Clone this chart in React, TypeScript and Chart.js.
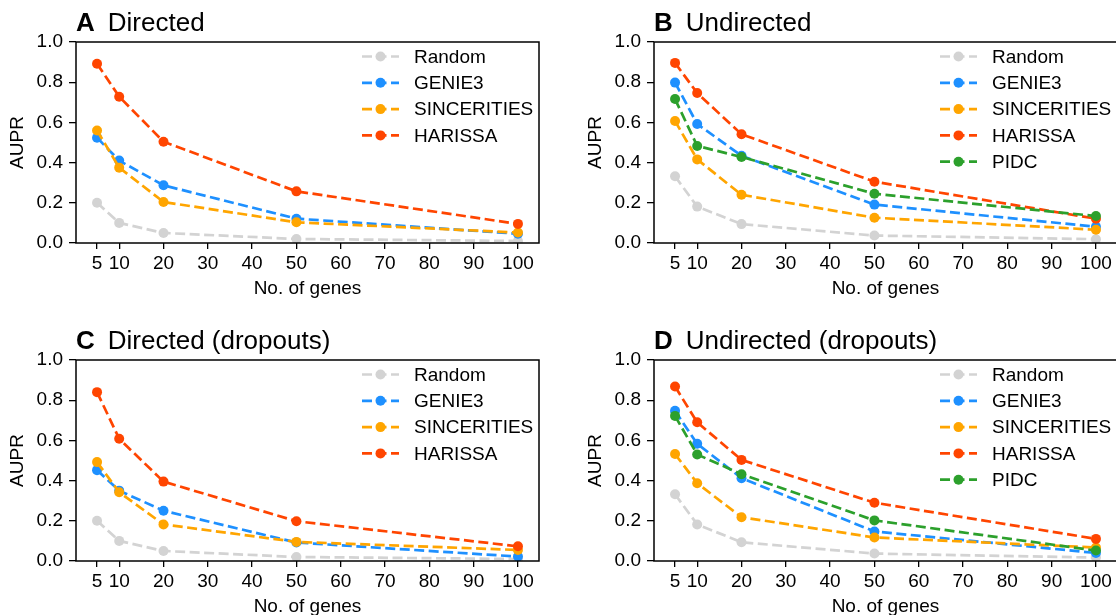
import React, { useEffect, useRef } from "react";
import { Chart, registerables } from "chart.js";

Chart.register(...registerables);

// ---------- data ----------
const genes = [5, 10, 20, 50, 100];
const xTickValues = [5, 10, 20, 30, 40, 50, 60, 70, 80, 90, 100];
const yTickValues = [0, 0.2, 0.4, 0.6, 0.8, 1.0];

const methodNames = ["Random", "GENIE3", "SINCERITIES", "HARISSA", "PIDC"];
const methodColors = ["#d3d3d3", "#1e90ff", "#ffa500", "#ff4500", "#2ca02c"];

// Panel A: Directed
const randomA = [0.2, 0.1, 0.05, 0.02, 0.01];
const genie3A = [0.524, 0.41, 0.287, 0.121, 0.046];
const sinceritiesA = [0.56, 0.375, 0.204, 0.103, 0.052];
const harissaA = [0.892, 0.728, 0.504, 0.257, 0.095];

// Panel B: Undirected
const randomB = [0.332, 0.181, 0.094, 0.037, 0.019];
const genie3B = [0.798, 0.592, 0.434, 0.191, 0.081];
const sinceritiesB = [0.607, 0.416, 0.24, 0.126, 0.066];
const harissaB = [0.896, 0.746, 0.541, 0.305, 0.121];
const pidcB = [0.716, 0.483, 0.428, 0.245, 0.134];

// Panel C: Directed (dropouts)
const randomC = [0.2, 0.1, 0.05, 0.02, 0.01];
const genie3C = [0.452, 0.35, 0.25, 0.092, 0.022];
const sinceritiesC = [0.492, 0.342, 0.182, 0.095, 0.055];
const harissaC = [0.84, 0.608, 0.395, 0.198, 0.073];

// Panel D: Undirected (dropouts)
const randomD = [0.332, 0.182, 0.093, 0.037, 0.017];
const genie3D = [0.747, 0.583, 0.412, 0.147, 0.04];
const sinceritiesD = [0.532, 0.387, 0.218, 0.117, 0.067];
const harissaD = [0.868, 0.69, 0.503, 0.29, 0.11];
const pidcD = [0.722, 0.53, 0.432, 0.202, 0.052];

const FONT = '"Liberation Sans", Arial, Helvetica, sans-serif';

type PanelProps = {
  letter: string;
  title: string;
  series: number[][];
  left: number;
  top: number;
};

const CW = 558;
const CH = 307;

function Panel({ letter, title, series, left, top }: PanelProps) {
  const ref = useRef<HTMLCanvasElement | null>(null);

  useEffect(() => {
    if (!ref.current) return;
    const names = methodNames.slice(0, series.length);
    const colors = methodColors.slice(0, series.length);

    const decor = {
      id: "decor",
      afterDraw(chart: any) {
        const { ctx, chartArea: ca } = chart;
        ctx.save();
        // frame
        ctx.setLineDash([]);
        ctx.strokeStyle = "#000";
        ctx.lineWidth = 1.5;
        ctx.strokeRect(ca.left, ca.top, ca.right - ca.left, ca.bottom - ca.top);
        // title
        ctx.fillStyle = "#000";
        ctx.textAlign = "left";
        ctx.textBaseline = "alphabetic";
        ctx.font = `bold 26px ${FONT}`;
        ctx.fillText(letter, ca.left, ca.top - 11);
        const w = ctx.measureText(letter).width;
        ctx.font = `26px ${FONT}`;
        ctx.fillText(title, ca.left + w + 13, ca.top - 11);
        // legend
        const y0 = ca.top + 14.5;
        const dy = 26.3;
        names.forEach((n, i) => {
          const y = y0 + i * dy;
          const x0 = ca.left + 286;
          const x1 = ca.left + 323;
          ctx.strokeStyle = colors[i];
          ctx.lineWidth = 2.7;
          ctx.setLineDash([10, 4.5]);
          ctx.beginPath();
          ctx.moveTo(x0, y);
          ctx.lineTo(x1, y);
          ctx.stroke();
          ctx.setLineDash([]);
          ctx.fillStyle = colors[i];
          ctx.beginPath();
          ctx.arc((x0 + x1) / 2, y, 5, 0, Math.PI * 2);
          ctx.fill();
          ctx.fillStyle = "#000";
          ctx.font = `19px ${FONT}`;
          ctx.textBaseline = "middle";
          ctx.fillText(n, ca.left + 338, y + 1);
        });
        ctx.restore();
      },
    };

    const chart = new Chart(ref.current, {
      type: "line",
      data: {
        datasets: series.map((vals, i) => ({
          label: names[i],
          data: genes.map((g, j) => ({ x: g, y: vals[j] })),
          borderColor: colors[i],
          backgroundColor: colors[i],
          borderWidth: 2.7,
          borderDash: [10, 4.5],
          pointRadius: 5,
          pointHoverRadius: 5,
          pointBorderWidth: 0,
          pointBackgroundColor: colors[i],
          tension: 0,
          fill: false,
          clip: 0,
          order: series.length - i,
        })),
      },
      options: {
        animation: false,
        responsive: false,
        events: [],
        layout: { padding: { top: 42, right: 19, left: 0, bottom: 0 } },
        plugins: {
          legend: { display: false },
          title: { display: false },
          tooltip: { enabled: false },
        },
        scales: {
          x: {
            type: "linear",
            min: 0.25,
            max: 104.75,
            afterBuildTicks: (s: any) => {
              s.ticks = xTickValues.map((v) => ({ value: v }));
            },
            afterFit: (s: any) => {
              s.height = 64;
            },
            ticks: {
              color: "#000",
              font: { size: 19, family: FONT },
              padding: 3,
              maxRotation: 0,
              autoSkip: false,
              callback: (v: any) => String(v),
            },
            grid: {
              display: true,
              drawOnChartArea: false,
              drawTicks: true,
              tickLength: 6,
              color: "#000",
              lineWidth: 1.3,
            },
            border: { display: false },
            title: {
              display: true,
              text: "No. of genes",
              color: "#000",
              font: { size: 19, family: FONT },
              padding: { top: 0, bottom: 7 },
            },
          },
          y: {
            type: "linear",
            min: 0,
            max: 1,
            afterBuildTicks: (s: any) => {
              s.ticks = yTickValues.map((v) => ({ value: v }));
            },
            afterFit: (s: any) => {
              s.width = 76;
            },
            ticks: {
              color: "#000",
              font: { size: 19, family: FONT },
              padding: 6,
              callback: (v: any) => Number(v).toFixed(1),
            },
            grid: {
              display: true,
              drawOnChartArea: false,
              drawTicks: true,
              tickLength: 7,
              color: "#000",
              lineWidth: 1.3,
            },
            border: { display: false },
            title: {
              display: true,
              text: "AUPR",
              color: "#000",
              font: { size: 19, family: FONT },
              padding: { top: 6, bottom: 0 },
            },
          },
        },
      },
      plugins: [decor],
    } as any);

    return () => chart.destroy();
  }, [letter, title, series]);

  return (
    <canvas
      ref={ref}
      width={CW}
      height={CH}
      style={{ position: "absolute", left, top, width: CW, height: CH }}
    />
  );
}

const panelA = [randomA, genie3A, sinceritiesA, harissaA];
const panelB = [randomB, genie3B, sinceritiesB, harissaB, pidcB];
const panelC = [randomC, genie3C, sinceritiesC, harissaC];
const panelD = [randomD, genie3D, sinceritiesD, harissaD, pidcD];

export default function App() {
  return (
    <div
      style={{
        position: "fixed",
        left: 0,
        top: 0,
        width: 1116,
        height: 615,
        overflow: "hidden",
        background: "#fff",
      }}
    >
      <Panel letter="A" title="Directed" series={panelA} left={0} top={0} />
      <Panel letter="B" title="Undirected" series={panelB} left={578} top={0} />
      <Panel letter="C" title="Directed (dropouts)" series={panelC} left={0} top={318} />
      <Panel letter="D" title="Undirected (dropouts)" series={panelD} left={578} top={318} />
    </div>
  );
}
